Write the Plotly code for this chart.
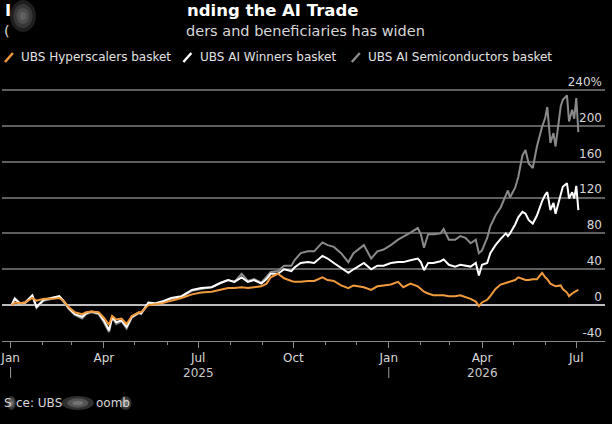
import plotly.graph_objects as go

# ---------------- data ----------------
dates = [
    "2025-01-02", "2025-01-05", "2025-01-10", "2025-01-15", "2025-01-22", "2025-01-26",
    "2025-02-02", "2025-02-10", "2025-02-17", "2025-02-21", "2025-02-26", "2025-03-04",
    "2025-03-11", "2025-03-15", "2025-03-20", "2025-03-27", "2025-04-01", "2025-04-06",
    "2025-04-09", "2025-04-13", "2025-04-18", "2025-04-23", "2025-04-28", "2025-05-05",
    "2025-05-07", "2025-05-14", "2025-05-20", "2025-05-27", "2025-06-05", "2025-06-15",
    "2025-06-25", "2025-07-04", "2025-07-14", "2025-07-23", "2025-07-30", "2025-08-05",
    "2025-08-12", "2025-08-18", "2025-08-24", "2025-08-31", "2025-09-05", "2025-09-09",
    "2025-09-16", "2025-09-22", "2025-09-29", "2025-10-02", "2025-10-08", "2025-10-15",
    "2025-10-21", "2025-10-29", "2025-11-03", "2025-11-09", "2025-11-16", "2025-11-23",
    "2025-11-28", "2025-12-08", "2025-12-15", "2025-12-21", "2025-12-27", "2026-01-03",
    "2026-01-10", "2026-01-15", "2026-01-22", "2026-01-29", "2026-02-01", "2026-02-04",
    "2026-02-08", "2026-02-13", "2026-02-20", "2026-02-23", "2026-02-28", "2026-03-06",
    "2026-03-11", "2026-03-16", "2026-03-21", "2026-03-26", "2026-03-29", "2026-04-01",
    "2026-04-06", "2026-04-09", "2026-04-14", "2026-04-19", "2026-04-24", "2026-04-26",
    "2026-04-28", "2026-05-03", "2026-05-06", "2026-05-10", "2026-05-13", "2026-05-16",
    "2026-05-20", "2026-05-24", "2026-05-29", "2026-06-01", "2026-06-03", "2026-06-06",
    "2026-06-09", "2026-06-11", "2026-06-16", "2026-06-18", "2026-06-22", "2026-06-24",
    "2026-06-27", "2026-06-29", "2026-07-01", "2026-07-03",
]

hyperscalers = [
    0, 3, 2, 3, 8, 5,
    7, 7, 8, 5, -2, -8,
    -10, -8, -7, -8, -14, -22,
    -12, -16, -15, -21, -12, -8,
    -8, 0, 1, 2, 5, 8,
    12, 14, 15, 17, 19, 19,
    20, 19, 20, 21, 24, 31,
    35, 30, 27, 26, 26, 27,
    27, 31, 28, 27, 22, 19,
    22, 20, 17, 21, 22, 23,
    26, 20, 24, 21, 18, 15,
    13, 11, 11, 11, 10, 10,
    11, 9, 7, 4, -1, 3,
    6, 10, 18, 23, 25, 26,
    26, 28, 31, 29, 28, 28,
    29, 29, 36, 31, 29, 24,
    22, 21, 22, 18, 14, 10,
    13, 15, 16, 17,
]

ai_winners = [
    0, 7, 2, 3, 11, -2,
    6, 8, 10, 5, -3, -10,
    -13, -9, -7, -9, -17, -28,
    -13, -19, -17, -24, -13, -8,
    -9, 3, 2, 4, 8, 10,
    17, 19, 20, 25, 28, 26,
    31, 26, 28, 24, 29, 35,
    35, 40, 38, 42, 47, 48,
    47, 55, 52, 47, 42, 36,
    40, 47, 40, 44, 44, 47,
    48, 48, 50, 52, 48, 39,
    47, 47, 49, 51, 45, 43,
    45, 44, 43, 47, 33, 45,
    47, 58, 67, 74, 80, 77,
    80, 90, 98, 104, 102, 95,
    91, 100, 116, 123, 126, 106,
    114, 102, 123, 132, 136, 119,
    126, 119, 133, 106,
]

ai_semis = [
    0, 8, 2, 2, 10, -3,
    5, 7, 9, 4, -4, -11,
    -15, -10, -8, -10, -19, -30,
    -14, -21, -18, -26, -14, -9,
    -10, 2, 1, 3, 7, 9,
    16, 18, 20, 25, 28, 26,
    35, 27, 29, 25, 31, 37,
    38, 44, 44, 50, 58, 60,
    60, 70, 67, 65, 58, 48,
    58, 67, 52, 60, 62, 67,
    73, 76, 81, 86, 79, 64,
    79, 79, 80, 85, 73, 73,
    77, 75, 69, 73, 58, 61,
    75, 88, 100, 109, 123, 128,
    120, 131, 143, 167, 173, 158,
    153, 177, 199, 209, 221, 181,
    192, 177, 222, 229, 234, 205,
    218, 208, 231, 193,
]

series_names = ["UBS Hyperscalers basket", "UBS AI Winners basket", "UBS AI Semiconductors basket"]
series_colors = ["#f09a3e", "#ffffff", "#8a8a8a"]

y_tickvals = [-40, 0, 40, 80, 120, 160, 200, 240]
y_ticktext = ["-40", "0", "40", "80", "120", "160", "200", "240%"]

x_tickvals = ["2025-01-01", "2025-04-01", "2025-07-01", "2025-10-01",
              "2026-01-01", "2026-04-01", "2026-07-01"]
x_ticktext = ["Jan", "Apr", "Jul", "Oct", "Jan", "Apr", "Jul"]

year_labels = ["2025", "2026"]
year_label_dates = ["2025-07-01", "2026-04-01"]
year_separator_dates = ["2025-01-01", "2026-01-01"]

title_text = "nding the AI Trade"
subtitle_text = "ders and beneficiaries has widen"

# ---------------- figure ----------------
fig = go.Figure()
values = [hyperscalers, ai_winners, ai_semis]
for i in [2, 1, 0]:
    fig.add_trace(go.Scatter(
        x=dates, y=values[i], mode="lines", name=series_names[i],
        line=dict(color=series_colors[i], width=2),
    ))

W, H = 612, 424
ML, MR, MT, MB = 0, 7, 68, 83
PW, PH = W - ML - MR, H - MT - MB
Y_LO = -40
Y_HI = 240 + (90 - MT) / 0.896


def px(x):
    return (x - ML) / PW


def py(y):
    return (H - MB - y) / PH


annotations = []
shapes = []

# title / subtitle (visible fragments)
annotations.append(dict(text="<b>I</b>", x=px(1), y=py(10), xref="paper", yref="paper",
                        xanchor="left", yanchor="middle", showarrow=False,
                        font=dict(size=16.5, color="#ffffff", family="DejaVu Sans")))
annotations.append(dict(text="<b>" + title_text + "</b>", x=px(184), y=py(10), xref="paper", yref="paper",
                        xanchor="left", yanchor="middle", showarrow=False,
                        font=dict(size=16.5, color="#ffffff", family="DejaVu Sans")))
annotations.append(dict(text="(", x=px(0), y=py(31), xref="paper", yref="paper",
                        xanchor="left", yanchor="middle", showarrow=False,
                        font=dict(size=14.5, color="#d6d6d6", family="DejaVu Sans")))
annotations.append(dict(text=subtitle_text, x=px(183), y=py(31), xref="paper", yref="paper",
                        xanchor="left", yanchor="middle", showarrow=False,
                        font=dict(size=14.5, color="#d6d6d6", family="DejaVu Sans")))


def smudge(x0, x1, y0, y1, rgb, steps=4, alpha=0.13):
    cx, cy = (x0 + x1) / 2, (y0 + y1) / 2
    hw, hh = (x1 - x0) / 2, (y1 - y0) / 2
    for k in range(steps):
        f = 1 - k / steps
        shapes.append(dict(type="circle", xref="paper", yref="paper",
                           x0=px(cx - hw * f), x1=px(cx + hw * f),
                           y0=py(cy + hh * f), y1=py(cy - hh * f),
                           fillcolor="rgba(%s,%.2f)" % (rgb, alpha), line=dict(width=0),
                           layer="above"))


# blurred smudge near the title
smudge(8, 34, 0, 32, "210,210,210", steps=4, alpha=0.14)

# legend (manual)
leg = [(3, 17), (182, 197), (351, 365)]
for i, (sx, tx) in enumerate(leg):
    shapes.append(dict(type="line", xref="paper", yref="paper",
                       x0=px(sx), y0=py(62), x1=px(sx + 8), y1=py(53),
                       line=dict(color=series_colors[i], width=2.5)))
    annotations.append(dict(text=series_names[i], x=px(tx), y=py(57), xref="paper", yref="paper",
                            xanchor="left", yanchor="middle", showarrow=False,
                            font=dict(size=12, color="#e2e2e2", family="DejaVu Sans")))

# second row of the time axis: years and year separators
for t, d in zip(year_labels, year_label_dates):
    annotations.append(dict(text=t, x=d, y=py(373), xref="x", yref="paper",
                            xanchor="center", yanchor="middle", showarrow=False,
                            font=dict(size=12, color="#c8c8c8", family="DejaVu Sans")))
for d in year_separator_dates:
    shapes.append(dict(type="line", xref="x", yref="paper", x0=d, x1=d,
                       y0=py(367), y1=py(378), line=dict(color="#9a9a9a", width=1)))

# source line (visible fragments)
src_parts = [("S", 0), ("ce: UBS", 12), ("oomb", 92)]
for t, sx in src_parts:
    annotations.append(dict(text=t, x=px(sx), y=py(403), xref="paper", yref="paper",
                            xanchor="left", yanchor="middle", showarrow=False,
                            font=dict(size=12, color="#d6d6d6", family="DejaVu Sans")))
for x0, x1 in [(5, 14), (60, 92), (118, 130)]:
    smudge(x0, x1, 396, 410, "235,235,235", steps=3, alpha=0.2)

fig.update_layout(
    width=W, height=H,
    paper_bgcolor="#000000", plot_bgcolor="#000000",
    margin=dict(l=ML, r=MR, t=MT, b=MB),
    showlegend=False,
    font=dict(family="DejaVu Sans", color="#d8d8d8", size=12),
    annotations=annotations,
    shapes=shapes,
    xaxis=dict(
        type="date",
        range=["2024-12-23 17:00:00", "2026-07-28 17:00:00"],
        tickvals=x_tickvals, ticktext=x_ticktext,
        ticks="outside", ticklen=6, tickwidth=1, tickcolor="#8a8a8a",
        ticklabeloverflow="allow",
        showline=True, linecolor="#8a8a8a", linewidth=1,
        showgrid=False, zeroline=False,
        tickfont=dict(size=12, color="#d8d8d8"),
        minor=dict(dtick="M1", tick0="2025-01-01", ticks="outside", ticklen=3,
                   tickcolor="#8a8a8a", tickwidth=1, showgrid=False),
    ),
    yaxis=dict(
        side="right",
        range=[Y_LO, Y_HI],
        tickvals=y_tickvals, ticktext=y_ticktext,
        ticklabelposition="inside top",
        ticklabeloverflow="allow",
        showgrid=True, gridcolor="#5e5e5e", gridwidth=1.5,
        zeroline=True, zerolinecolor="#bdbdbd", zerolinewidth=2,
        showline=False, ticks="",
        tickfont=dict(size=12, color="#d8d8d8"),
    ),
)

fig.write_html("out.html")
